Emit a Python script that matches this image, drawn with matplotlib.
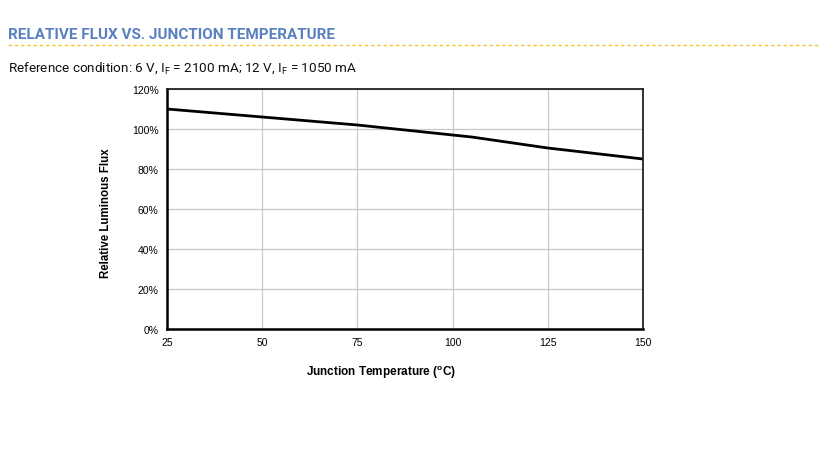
import numpy as np
import matplotlib
matplotlib.use('Agg')
import matplotlib.pyplot as plt
from matplotlib.ticker import PercentFormatter

plt.rcParams['font.family'] = ['Roboto', 'DejaVu Sans']
plt.rcParams['mathtext.fontset'] = 'custom'
plt.rcParams['mathtext.rm'] = 'Roboto'

# Junction temperature (C) vs relative luminous flux (%)
temperature = [25, 50, 75, 85, 100, 105, 125, 150]
rel_flux = [110, 106, 102, 100, 97, 96, 90.5, 85]

x_ticks = [25, 50, 75, 100, 125, 150]
y_ticks = [0, 20, 40, 60, 80, 100, 120]

fig = plt.figure(figsize=(8.2, 4.56), dpi=100)

# Header
fig.text(8 / 820, 1 - 35 / 456, 'RELATIVE FLUX VS. JUNCTION TEMPERATURE',
         fontsize=11, fontweight='bold', color='#5b80c0', va='center', ha='left')
fig.add_artist(plt.Line2D([8 / 820, 1.0], [1 - 46 / 456, 1 - 46 / 456],
                          color='#f0c830', linewidth=1, linestyle=(0, (2.5, 2))))
fig.text(8 / 820, 1 - 68 / 456,
         r'Reference condition: 6 V, I$_\mathregular{F}$ = 2100 mA; 12 V, I$_\mathregular{F}$ = 1050 mA',
         fontsize=9.7, color='#111111', va='center', ha='left')

axfont = ['Liberation Sans', 'DejaVu Sans']

ax = fig.add_axes([167 / 820, 1 - 330 / 456, (643 - 167) / 820, (330 - 90) / 456])
ax.plot(temperature, rel_flux, color='black', linewidth=2)

ax.set_xlim(25, 150)
ax.set_ylim(0, 120)
ax.set_xticks(x_ticks)
ax.set_yticks(y_ticks)
ax.yaxis.set_major_formatter(PercentFormatter(decimals=0))
ax.tick_params(labelsize=7.5, length=0, pad=6)
for lbl in ax.get_xticklabels() + ax.get_yticklabels():
    lbl.set_family(axfont)
ax.grid(True, color='#c8c8c8', linewidth=0.9)
ax.set_axisbelow(True)
for s in ax.spines.values():
    s.set_linewidth(1.3)
    s.set_color('#222222')
ax.spines['left'].set_linewidth(1.8)
ax.spines['bottom'].set_linewidth(1.8)
ax.spines['left'].set_color('black')
ax.spines['bottom'].set_color('black')

ax.set_xlabel('Junction Temperature ($^\\mathregular{o}$C)', fontsize=8.5, fontweight='bold', family=axfont)
ax.set_ylabel('Relative Luminous Flux', fontsize=8.3, fontweight='bold', family=axfont)
ax.xaxis.set_label_coords((381 - 167) / 476, -(373 - 330) / 240)
ax.yaxis.set_label_coords(-(167 - 106) / 476, (330 - 213) / 240)
ax.xaxis.label.set_va('center')
ax.yaxis.label.set_va('center')

fig.savefig('out.png', dpi=100)
